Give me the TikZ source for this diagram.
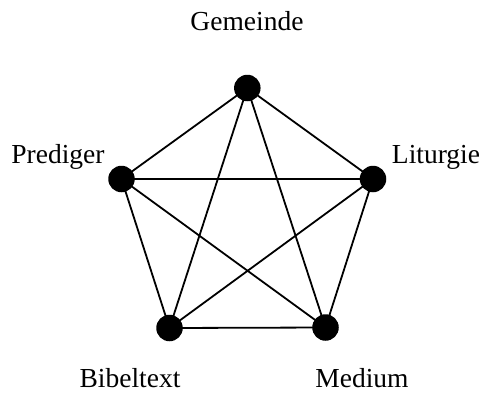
\documentclass[tikz,border=0pt]{standalone}
\usepackage{fontspec}
\setmainfont{Liberation Serif}
\begin{document}
\begin{tikzpicture}[x=1pt,y=-1pt,
  dot/.style={circle,fill=black,inner sep=0pt,minimum size=26.5pt},
  lbl/.style={font=\fontsize{27.5}{30}\selectfont,inner sep=0pt,anchor=base},
  edge/.style={line width=1.8pt}]
\useasboundingbox (0,0) rectangle (482,394);
\node[dot] (g) at (247.3,88) {};
\node[dot] (l) at (373,179) {};
\node[dot] (m) at (325.5,327.5) {};
\node[dot] (b) at (169.5,328) {};
\node[dot] (p) at (121.5,179) {};
\node[lbl] (tg) at (247,30.5) {Gemeinde};
\node[lbl] (tp) at (58,163) {Prediger};
\node[lbl] (tl) at (436,163) {Liturgie};
\node[lbl] (tb) at (130,387) {Bibeltext};
\node[lbl] (tm) at (362,387) {Medium};
\foreach \a/\c in {g/l,g/m,g/b,g/p,l/m,l/b,l/p,m/b,m/p,b/p}
  \draw[edge] (\a.center) -- (\c.center);
\end{tikzpicture}
\end{document}
